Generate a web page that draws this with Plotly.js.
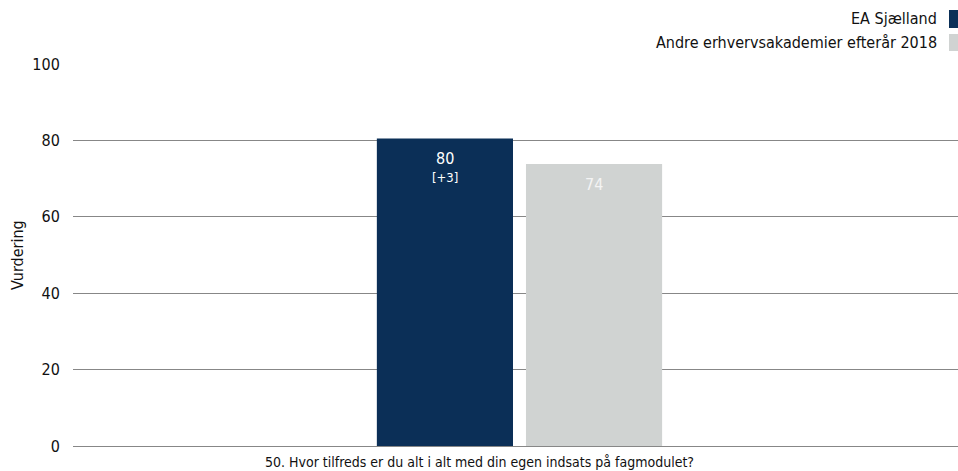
<!DOCTYPE html>
<html><head><meta charset="utf-8">
<script src="https://cdn.plot.ly/plotly-3.0.1.min.js"></script>
<style>body{margin:0;padding:0;background:#fff}#chart{width:958px;height:471px}</style>
</head><body><div id="chart"></div>
<script>
var categories = ["50. Hvor tilfreds er du alt i alt med din egen indsats på fagmodulet?"];
var seriesNames = ["EA Sjælland", "Andre erhvervsakademier efterår 2018"];
var eaValues = [80.5];
var otherValues = [73.8];
var eaLabels = ["80"];
var eaDiffs = ["[+3]"];
var otherLabels = ["74"];
var colors = ["#0b2f57", "#d0d3d2"];
var yTicks = [0, 20, 40, 60, 80, 100];

var FONT = "DejaVu Sans Condensed, DejaVu Sans, Verdana, sans-serif";
var ML = 73, MR = 0, MT = 64, MB = 25, W = 958, H = 471;
var BARGAP = 0.663, GROUPGAP = 0.087, SHIFT = 0.0045;

var traces = [
  {type:"bar", name:seriesNames[0], x:[0], y:eaValues, marker:{color:colors[0]}, hoverinfo:"none", showlegend:false},
  {type:"bar", name:seriesNames[1], x:[0], y:otherValues, marker:{color:colors[1]}, hoverinfo:"none", showlegend:false}
];

var plotW = W-ML-MR, plotH = H-MT-MB;
function pxX(px){return (px-ML)/plotW;}
function pxY(py){return (H-MB-py)/plotH;}

var slot = (1-BARGAP)/2;
var annotations = [];
eaValues.forEach(function(v,i){
  annotations.push({xref:"x", yref:"y", x:i - slot/2, y:v, yanchor:"middle", yshift:-20, text:eaLabels[i], showarrow:false, font:{size:16, color:"#ffffff"}});
  annotations.push({xref:"x", yref:"y", x:i - slot/2, y:v, yanchor:"middle", yshift:-39, text:eaDiffs[i], showarrow:false, font:{size:13, color:"#ffffff"}});
});
otherValues.forEach(function(v,i){
  annotations.push({xref:"x", yref:"y", x:i + slot/2, y:v, yanchor:"middle", yshift:-20, text:otherLabels[i], showarrow:false, font:{size:16, color:"#f4f4f4"}});
});
categories.forEach(function(c){
  annotations.push({xref:"paper", yref:"paper", x:pxX(W/2), y:pxY(462), xanchor:"center", yanchor:"middle", text:c, showarrow:false, font:{size:14, color:"#111"}});
});
annotations.push({xref:"paper", yref:"paper", x:pxX(17), y:pxY(255), xanchor:"center", yanchor:"middle", textangle:-90, text:"Vurdering", showarrow:false, font:{size:16, color:"#111"}});
annotations.push({xref:"paper", yref:"paper", x:pxX(939), y:pxY(18), xanchor:"right", yanchor:"middle", text:seriesNames[0], showarrow:false, font:{size:16, color:"#111"}});
annotations.push({xref:"paper", yref:"paper", x:pxX(939), y:pxY(42), xanchor:"right", yanchor:"middle", text:seriesNames[1], showarrow:false, font:{size:16, color:"#111"}});

var layout = {
  width:W, height:H,
  margin:{l:ML, r:MR, t:MT, b:MB},
  paper_bgcolor:"#fff", plot_bgcolor:"#fff",
  font:{family:FONT, size:16, color:"#111"},
  barmode:"group", bargap:BARGAP, bargroupgap:GROUPGAP,
  showlegend:false,
  xaxis:{type:"linear", range:[-0.5-SHIFT, 0.5-SHIFT], showgrid:false, showline:false, zeroline:false, showticklabels:false, ticks:"", automargin:false},
  yaxis:{range:[0,100], tickvals:yTicks, showgrid:true, gridcolor:"#878787", gridwidth:1,
         zeroline:true, zerolinecolor:"#878787", zerolinewidth:1, showline:false,
         ticks:"outside", ticklen:9, tickcolor:"rgba(0,0,0,0)", tickfont:{size:16, color:"#111"}, automargin:false},
  shapes:[
    {type:"rect", xref:"paper", yref:"paper", x0:pxX(949), x1:pxX(962), y0:pxY(28), y1:pxY(10), fillcolor:colors[0], line:{width:0}},
    {type:"rect", xref:"paper", yref:"paper", x0:pxX(949), x1:pxX(962), y0:pxY(51), y1:pxY(34), fillcolor:colors[1], line:{width:0}}
  ],
  annotations:annotations
};
Plotly.newPlot("chart", traces, layout, {displayModeBar:false, staticPlot:true});
</script></body></html>
